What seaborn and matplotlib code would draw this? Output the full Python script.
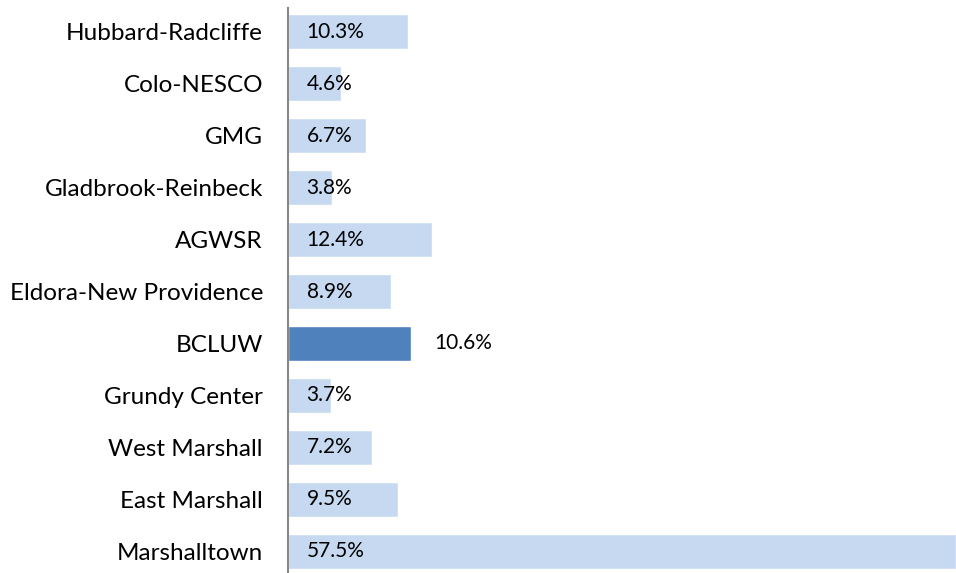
import matplotlib
matplotlib.use("Agg")
import matplotlib.pyplot as plt
import seaborn as sns
import pandas as pd

districts = ["Hubbard-Radcliffe", "Colo-NESCO", "GMG", "Gladbrook-Reinbeck", "AGWSR",
             "Eldora-New Providence", "BCLUW", "Grundy Center", "West Marshall",
             "East Marshall", "Marshalltown"]
shares = [10.3, 4.6, 6.7, 3.8, 12.4, 8.9, 10.6, 3.7, 7.2, 9.5, 57.5]
highlight = "BCLUW"

df = pd.DataFrame({"district": districts, "share": shares})
df["group"] = ["hi" if d == highlight else "lo" for d in df["district"]]

sns.set_theme(style="white")
plt.rcParams['font.family'] = ['Lato', 'DejaVu Sans']

fig = plt.figure(figsize=(9.56, 5.73), dpi=100)
ax = fig.add_axes([288 / 956, 0, 1 - 288 / 956, 1 - 8 / 573])

sns.barplot(data=df, x="share", y="district", hue="group",
            palette={"lo": "#C6D9F1", "hi": "#4F81BD"}, dodge=False, saturation=1,
            width=0.67, legend=False, ax=ax)

for i, (d, v) in enumerate(zip(districts, shares)):
    if d == highlight:
        ax.text(v + 2.0, i, f"{v:.1f}%", va="center", ha="left", fontsize=15, color="black")
    else:
        ax.text(1.6, i, f"{v:.1f}%", va="center", ha="left", fontsize=15, color="black")

ax.set_xlim(0, 57.5)
ax.set_ylim(10.42, -0.46)
ax.set_xlabel("")
ax.set_ylabel("")
ax.set_xticks([])
ax.tick_params(axis="y", length=0, pad=18, labelsize=17.5, labelcolor="black")
for s in ["top", "right", "bottom"]:
    ax.spines[s].set_visible(False)
ax.spines["left"].set_color("#888888")
ax.spines["left"].set_linewidth(1.5)

fig.savefig("out.png", dpi=100)
